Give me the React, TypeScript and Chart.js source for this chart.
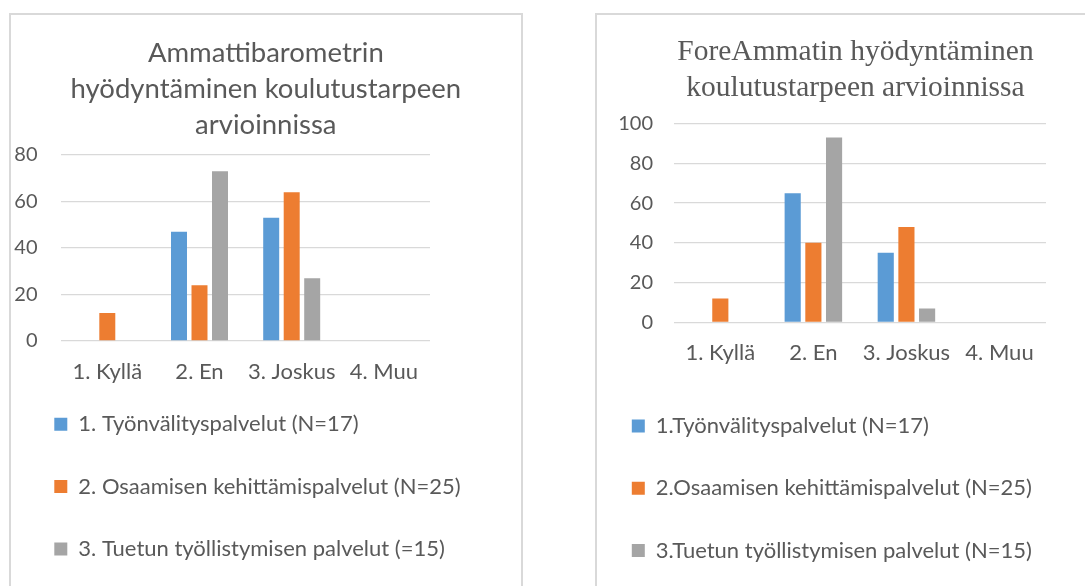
import React, { useEffect, useRef } from "react";
import { Chart, registerables } from "chart.js";

Chart.register(...registerables);

// ---------- data ----------
const categories = ["1. Kyllä", "2. En", "3. Joskus", "4. Muu"];

const leftTitle = ["Ammattibarometrin", "hyödyntäminen koulutustarpeen", "arvioinnissa"];
const leftSeriesNames = [
  "1. Työnvälityspalvelut (N=17)",
  "2. Osaamisen kehittämispalvelut (N=25)",
  "3. Tuetun työllistymisen palvelut (=15)",
];
const leftTyonvalitys = [0, 47, 53, 0];
const leftOsaaminen = [12, 24, 64, 0];
const leftTuettu = [0, 73, 27, 0];
const leftYMax = 80;
const leftYStep = 20;

const rightTitle = ["ForeAmmatin hyödyntäminen", "koulutustarpeen arvioinnissa"];
const rightSeriesNames = [
  "1.Työnvälityspalvelut (N=17)",
  "2.Osaamisen kehittämispalvelut (N=25)",
  "3.Tuetun työllistymisen palvelut (N=15)",
];
const rightTyonvalitys = [0, 65, 35, 0];
const rightOsaaminen = [12, 40, 48, 0];
const rightTuettu = [0, 93, 7, 0];
const rightYMax = 100;
const rightYStep = 20;

const seriesColors = ["#5B9BD5", "#ED7D31", "#A5A5A5"];
const TEXT = "#595959";
const GRID = "#D9D9D9";

type Geo = {
  width: number;
  height: number;
  padL: number;
  padR: number;
  padB: number;
  titleFont: string;
  titleSize: number;
  titleLine: number;
  titlePadTop: number;
  titlePadBottom: number;
  yAxisW: number;
  yTickPad: number;
  dummyW: number;
  xAxisH: number;
  xTickPad: number;
  legendTitleH: number;
};

function buildConfig(
  title: string[],
  names: string[],
  series: number[][],
  yMax: number,
  yStep: number,
  g: Geo
): any {
  const lt = g.legendTitleH;
  return {
    type: "bar",
    data: {
      labels: categories,
      datasets: series.map((d, i) => ({
        label: names[i],
        data: d,
        backgroundColor: seriesColors[i],
        borderWidth: 0,
        categoryPercentage: 0.667,
        barPercentage: 0.78,
      })),
    },
    options: {
      responsive: false,
      animation: false,
      devicePixelRatio: 1,
      layout: { padding: { left: g.padL, right: g.padR, top: 0, bottom: g.padB } },
      plugins: {
        title: {
          display: true,
          text: title,
          color: TEXT,
          font: { family: g.titleFont, size: g.titleSize, weight: "normal", lineHeight: g.titleLine / g.titleSize },
          padding: { top: g.titlePadTop, bottom: g.titlePadBottom },
        },
        legend: {
          display: true,
          position: "bottom",
          align: "start",
          title: {
            display: lt !== 0,
            text: "",
            font: { size: 1, lineHeight: 1 },
            padding: { top: (lt - 1) / 2, bottom: (lt - 1) / 2 },
          },
          labels: {
            color: TEXT,
            font: { family: "Lato", size: 22 },
            boxWidth: 13,
            boxHeight: 13,
            padding: 40.3,
          },
        },
        tooltip: { enabled: false },
      },
      scales: {
        x: {
          grid: { display: false, drawTicks: false },
          border: { display: false },
          ticks: { color: TEXT, font: { family: "Lato", size: 22, lineHeight: 1.2 }, padding: g.xTickPad, maxRotation: 0, autoSkip: false },
          afterFit: (s: any) => {
            s.height = g.xAxisH;
          },
        },
        y: {
          min: 0,
          max: yMax,
          grid: { color: GRID, lineWidth: 1.3, drawTicks: false },
          border: { display: false },
          ticks: { stepSize: yStep, color: TEXT, font: { family: "Lato", size: 20 }, padding: g.yTickPad },
          afterFit: (s: any) => {
            s.width = g.yAxisW;
          },
        },
        y2: {
          type: "linear",
          position: "right",
          display: true,
          grid: { display: false, drawTicks: false },
          border: { display: false },
          ticks: { display: false },
          afterFit: (s: any) => {
            s.width = g.dummyW;
          },
        },
      },
    },
  };
}

const leftGeo: Geo = {
  width: 530,
  height: 586,
  padL: 14,
  padR: 12.4,
  padB: 16.1,
  titleFont: "Lato",
  titleSize: 27.5,
  titleLine: 36,
  titlePadTop: 35.5,
  titlePadBottom: 11.5,
  yAxisW: 47.2,
  yTickPad: 23.7,
  dummyW: 87.6,
  xAxisH: 44,
  xTickPad: 17.5,
  legendTitleH: -12,
};

const rightGeo: Geo = {
  width: 580,
  height: 586,
  padL: 31.5,
  padR: 20.5,
  padB: 14.4,
  titleFont: "Liberation Serif",
  titleSize: 29.5,
  titleLine: 35.7,
  titlePadTop: 34.8,
  titlePadBottom: 17.5,
  yAxisW: 82.3,
  yTickPad: 20.8,
  dummyW: 73.5,
  xAxisH: 52.4,
  xTickPad: 17.8,
  legendTitleH: 0,
};

function BarChart(props: { config: any; left: number; geo: Geo }) {
  const ref = useRef<HTMLCanvasElement | null>(null);
  useEffect(() => {
    if (!ref.current) return;
    const chart = new Chart(ref.current, props.config);
    return () => chart.destroy();
  }, []);
  return (
    <canvas
      ref={ref}
      width={props.geo.width}
      height={props.geo.height}
      style={{ position: "absolute", left: props.left, top: 0, width: props.geo.width, height: props.geo.height }}
    />
  );
}

export default function App() {
  const leftConfig = buildConfig(leftTitle, leftSeriesNames, [leftTyonvalitys, leftOsaaminen, leftTuettu], leftYMax, leftYStep, leftGeo);
  const rightConfig = buildConfig(rightTitle, rightSeriesNames, [rightTyonvalitys, rightOsaaminen, rightTuettu], rightYMax, rightYStep, rightGeo);
  return (
    <div
      style={{
        position: "fixed",
        left: 0,
        top: 0,
        width: 1085,
        height: 586,
        overflow: "hidden",
        background: "#ffffff",
      }}
    >
      <div
        style={{
          position: "absolute",
          left: 9,
          top: 13,
          width: 514,
          height: 700,
          border: "2px solid #D9D9D9",
          boxSizing: "border-box",
        }}
      />
      <div
        style={{
          position: "absolute",
          left: 595,
          top: 13,
          width: 600,
          height: 700,
          border: "2px solid #D9D9D9",
          boxSizing: "border-box",
        }}
      />
      <BarChart config={leftConfig} left={0} geo={leftGeo} />
      <BarChart config={rightConfig} left={560} geo={rightGeo} />
    </div>
  );
}
